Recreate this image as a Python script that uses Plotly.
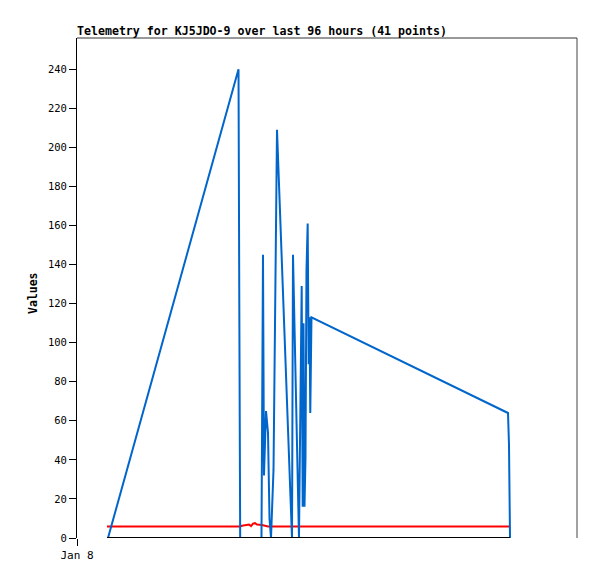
import pandas as pd
import plotly.graph_objects as go

START = pd.Timestamp("2024-01-08 00:00")

# hours since Jan 8 00:00 and values
blue_hours = [5.95, 31.01, 31.16, 31.33, 35.42, 35.52, 35.71, 35.90, 36.29, 36.67,
              36.96, 37.25, 37.73, 38.40, 41.28, 41.47, 42.62, 43.14, 43.33, 43.49,
              43.68, 43.87, 44.06, 44.29, 44.48, 44.64, 44.79, 45.02, 82.75, 82.94,
              83.04, 83.14]
blue_values = [0, 240, 121, 0, 0, 72, 145, 32, 65, 54,
               10, 0, 35, 209, 0, 145, 0, 129, 16, 110,
               16, 41, 137, 161, 89, 113, 64, 113, 64, 48,
               16, 0]

red_hours = [5.76, 31.30, 31.68, 32.45, 33.02, 33.41, 33.79, 34.18, 34.56, 35.52,
             36.29, 36.67, 83.14]
red_values = [5.9, 5.9, 6.3, 6.6, 6.9, 6.1, 7.4, 7.6, 6.9, 6.6,
              6.2, 5.9, 5.9]

black_hours = [5.76, 83.14]
black_values = [0, 0]

y_ticks = [0, 20, 40, 60, 80, 100, 120, 140, 160, 180, 200, 220, 240]
x_tick_labels = ["Jan 8"]

title_text = "Telemetry for KJ5JDO-9 over last 96 hours (41 points)"


def to_time(hours):
    return [START + pd.Timedelta(hours=h) for h in hours]


fig = go.Figure()
fig.add_trace(go.Scatter(x=to_time(red_hours), y=red_values, mode="lines",
                         line=dict(color="#ff0000", width=2), showlegend=False))
fig.add_trace(go.Scatter(x=to_time(blue_hours), y=blue_values, mode="lines",
                         line=dict(color="#0066cc", width=2), showlegend=False))
fig.add_trace(go.Scatter(x=to_time(black_hours), y=black_values, mode="lines",
                         line=dict(color="#000000", width=2), showlegend=False))

mono = "DejaVu Sans Mono"

# page body has an 8px margin, so the figure is shifted by 8px
fig.update_layout(
    width=589, height=571,
    margin=dict(l=69, r=20, t=30, b=41),
    paper_bgcolor="white", plot_bgcolor="white",
    title=dict(text="<b>" + title_text + "</b>", x=0, xref="paper", xanchor="left",
               y=(571 - 23) / 571, yref="container", yanchor="middle",
               font=dict(family=mono, size=11.6, color="black")),
    xaxis=dict(type="date",
               range=[START, START + pd.Timedelta(hours=96)],
               tickvals=[START], ticktext=x_tick_labels,
               ticks="outside", ticklen=7, tickcolor="black",
               showgrid=False, zeroline=False, showline=False,
               tickfont=dict(family=mono, size=11, color="black")),
    yaxis=dict(range=[0, 256], tickvals=y_ticks,
               ticks="outside", ticklen=7, tickcolor="black",
               showgrid=False, zeroline=False, showline=True,
               linecolor="black", linewidth=1,
               tickfont=dict(family=mono, size=10.5, color="black")),
    annotations=[dict(text="<b>Values</b>", x=-0.088, y=0.49, xref="paper", yref="paper",
                      textangle=-90, showarrow=False, xanchor="center", yanchor="middle",
                      font=dict(family=mono, size=11.5, color="black"))],
    shapes=[
        dict(type="line", xref="paper", yref="paper", x0=0, x1=1, y0=1, y1=1,
             line=dict(color="#333333", width=1)),
        dict(type="line", xref="paper", yref="paper", x0=1, x1=1, y0=0, y1=1,
             line=dict(color="#444444", width=1)),
    ],
)

fig.write_html("out.html")
